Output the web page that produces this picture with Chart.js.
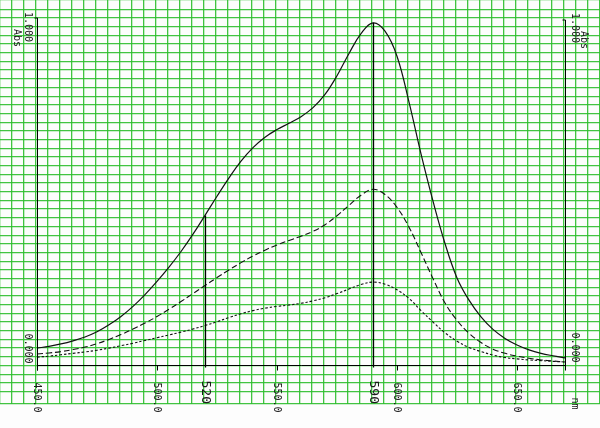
<!DOCTYPE html>
<html>
<head>
<meta charset="utf-8">
<script src="https://cdn.jsdelivr.net/npm/chart.js@4/dist/chart.umd.min.js"></script>
<style>
  html, body { margin: 0; padding: 0; background: #fdfdfd; }
  #wrap { width: 600px; height: 428px; }
</style>
</head>
<body>
<div id="wrap"><canvas id="spec"></canvas></div>
<script>
// wavelengths (nm) every 5 nm
var wavelengths = [450, 455, 460, 465, 470, 475, 480, 485, 490, 495,
  500, 505, 510, 515, 520, 525, 530, 535, 540, 545,
  550, 555, 560, 565, 570, 575, 580, 585, 590, 595,
  600, 605, 610, 615, 620, 625, 630, 635, 640, 645,
  650, 655, 660, 665, 670];

// absorbance, solid curve
var solidAbs = [0.050, 0.055, 0.062, 0.071, 0.082, 0.097, 0.117, 0.141, 0.170, 0.204,
  0.242, 0.283, 0.328, 0.378, 0.432, 0.487, 0.540, 0.588, 0.627, 0.657,
  0.679, 0.697, 0.716, 0.742, 0.780, 0.834, 0.898, 0.955, 0.986, 0.962,
  0.890, 0.758, 0.609, 0.473, 0.351, 0.252, 0.188, 0.140, 0.104, 0.078,
  0.059, 0.045, 0.035, 0.028, 0.022];

// absorbance, dashed curve
var dashedAbs = [0.033, 0.036, 0.040, 0.046, 0.053, 0.063, 0.075, 0.089, 0.105, 0.122,
  0.141, 0.162, 0.184, 0.207, 0.230, 0.253, 0.275, 0.296, 0.315, 0.332,
  0.347, 0.360, 0.372, 0.386, 0.405, 0.431, 0.461, 0.490, 0.507, 0.492,
  0.455, 0.398, 0.325, 0.250, 0.180, 0.130, 0.093, 0.066, 0.047, 0.035,
  0.027, 0.021, 0.016, 0.013, 0.010];

// absorbance, dotted curve
var dottedAbs = [0.024, 0.027, 0.031, 0.035, 0.039, 0.044, 0.050, 0.057, 0.064, 0.072,
  0.080, 0.088, 0.096, 0.105, 0.115, 0.126, 0.138, 0.149, 0.158, 0.165,
  0.170, 0.174, 0.179, 0.186, 0.195, 0.207, 0.220, 0.233, 0.240, 0.234,
  0.218, 0.193, 0.158, 0.125, 0.094, 0.070, 0.052, 0.040, 0.030, 0.023,
  0.019, 0.016, 0.014, 0.012, 0.010];

// axis labels
var xTickValues = [450, 500, 550, 600, 650];
var xTickLabels = ["450.0", "500.0", "550.0", "600.0", "650.0"];
var axisStart = 450;
var axisEnd = 670;
var absLow = 0;
var absHigh = 1;
var absLowLabel = "0.000";
var absHighLabel = "1.000";
var yUnit = "Abs";
var xUnit = "nm";

// marked wavelengths with drop lines
var markers = [520, 590];
var markerLabels = ["520", "590"];

// build point lists
function toPoints(values) {
  var pts = [];
  for (var i = 0; i < wavelengths.length; i++) {
    pts.push({ x: wavelengths[i], y: values[i] });
  }
  return pts;
}

// text rotated clockwise, reading from top to bottom
function vText(ctx, text, x, y, font) {
  ctx.save();
  ctx.translate(x, y);
  ctx.rotate(Math.PI / 2);
  ctx.font = font;
  ctx.textAlign = "left";
  ctx.textBaseline = "middle";
  ctx.fillText(text, 0, 0);
  ctx.restore();
}

// draws the axes, drop lines and labels like the plotter did
var plotterAxes = {
  id: "plotterAxes",
  afterDatasetsDraw: function (chart) {
    var ctx = chart.ctx;
    var xs = chart.scales.x;
    var ys = chart.scales.y;
    var x0 = Math.round(xs.getPixelForValue(axisStart)) + 0.5;
    var x1 = Math.round(xs.getPixelForValue(axisEnd)) + 0.5;
    var y0 = Math.round(ys.getPixelForValue(absLow)) + 0.5;
    var yTop = ys.getPixelForValue(absHigh);
    var font = "10px 'DejaVu Sans Mono'";

    ctx.save();
    ctx.strokeStyle = "#000";
    ctx.fillStyle = "#1a1a1a";
    ctx.lineWidth = 1;

    ctx.beginPath();
    // baseline
    ctx.moveTo(x0, y0);
    ctx.lineTo(x1, y0);
    // left and right axes
    ctx.moveTo(x0, y0 + 5);
    ctx.lineTo(x0, yTop);
    ctx.lineTo(x0 - 3, yTop);
    ctx.moveTo(x1, y0 + 5);
    ctx.lineTo(x1, yTop + 2);
    ctx.lineTo(x1 - 3, yTop + 2);
    // ticks under the baseline
    for (var i = 0; i < xTickValues.length; i++) {
      var tx = Math.round(xs.getPixelForValue(xTickValues[i])) + 0.5;
      ctx.moveTo(tx, y0);
      ctx.lineTo(tx, y0 + 5);
    }
    ctx.stroke();

    // drop lines from the solid curve
    ctx.beginPath();
    ctx.lineWidth = 1.3;
    for (var m = 0; m < markers.length; m++) {
      var idx = wavelengths.indexOf(markers[m]);
      var mx = Math.round(xs.getPixelForValue(markers[m])) + 0.5;
      ctx.moveTo(mx, y0 + 2);
      ctx.lineTo(mx, ys.getPixelForValue(solidAbs[idx]));
    }
    ctx.stroke();

    // wavelength labels
    for (var j = 0; j < xTickValues.length; j++) {
      vText(ctx, xTickLabels[j], xs.getPixelForValue(xTickValues[j]), y0 + 17, font);
    }
    for (var k = 0; k < markers.length; k++) {
      vText(ctx, markerLabels[k], xs.getPixelForValue(markers[k]), y0 + 15, "13px 'DejaVu Sans Mono'");
    }
    vText(ctx, xUnit, x1 + 9, y0 + 32, font);

    // absorbance labels on both sides
    vText(ctx, absLowLabel, x0 - 10, y0 - 32, font);
    vText(ctx, absHighLabel, x0 - 10, yTop - 6, font);
    vText(ctx, yUnit, x0 - 21, yTop + 11, font);
    vText(ctx, absLowLabel, x1 + 9, y0 - 33, font);
    vText(ctx, absHighLabel, x1 + 9, yTop - 5, font);
    vText(ctx, yUnit, x1 + 18, yTop + 13, font);
    ctx.restore();
  }
};

var ctx = document.getElementById("spec").getContext("2d");

var paperGreen = "rgba(45, 190, 45, 0.9)";

var chart = new Chart(ctx, {
  type: "line",
  data: {
    datasets: [
      {
        label: "solid",
        data: toPoints(solidAbs),
        borderColor: "#111",
        borderWidth: 1.2,
        pointRadius: 0,
        tension: 0.4,
        fill: false,
      },
      {
        label: "dashed",
        data: toPoints(dashedAbs),
        borderColor: "#111",
        borderWidth: 1.1,
        borderDash: [6, 3],
        pointRadius: 0,
        tension: 0.4,
        fill: false,
      },
      {
        label: "dotted",
        data: toPoints(dottedAbs),
        borderColor: "#111",
        borderWidth: 1.1,
        borderDash: [2.5, 2],
        pointRadius: 0,
        tension: 0.4,
        fill: false,
      },
    ],
  },
  options: {
    responsive: true,
    maintainAspectRatio: false,
    animation: false,
    layout: { padding: { left: 0, right: 0, top: 0, bottom: 24 } },
    plugins: {
      legend: { display: false },
      tooltip: { enabled: false },
    },
    scales: {
      x: {
        type: "linear",
        min: 434.58,
        max: 684.58,
        border: { display: false },
        grid: { color: paperGreen, lineWidth: 1.3, drawTicks: false, tickLength: 0 },
        ticks: { display: false, stepSize: 5 },
      },
      y: {
        type: "linear",
        min: -0.1108,
        max: 1.0518,
        border: { display: false },
        grid: { color: paperGreen, lineWidth: 1.3, drawTicks: false, tickLength: 0 },
        ticks: { display: false, stepSize: 0.025 },
      },
    },
  },
  plugins: [plotterAxes],
});
</script>
</body>
</html>
